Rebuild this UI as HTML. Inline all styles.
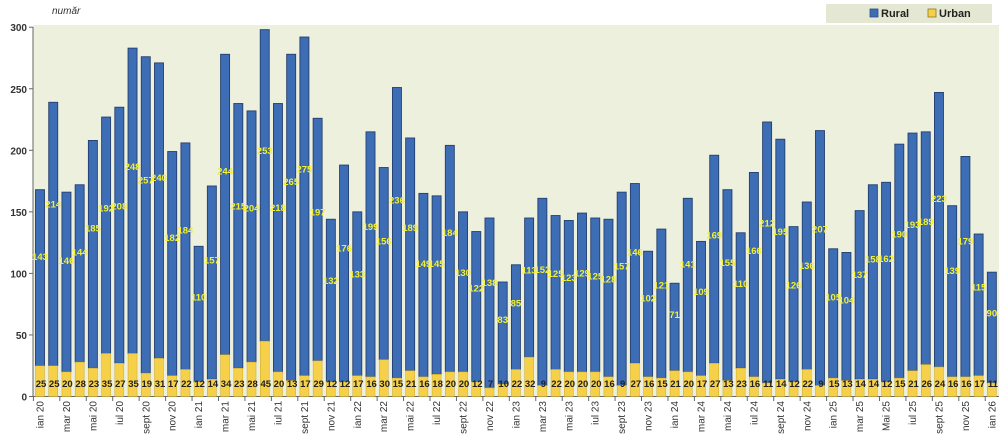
<!DOCTYPE html>
<html><head><meta charset="utf-8"><style>
html,body{margin:0;padding:0;background:#fff;width:1000px;height:441px;overflow:hidden}
svg{display:block;font-family:"Liberation Sans",sans-serif}
</style></head><body>
<svg id="c" width="1000" height="441" xmlns="http://www.w3.org/2000/svg">
<rect x="33" y="25" width="966" height="371" fill="#edf0dc"/>
<rect x="826" y="4" width="166" height="19" fill="#e4e8d2"/>
<rect x="870" y="9" width="8" height="8" fill="#3d6db4" stroke="#2a4f88" stroke-width="0.8"/>
<text x="881" y="17" font-size="11" font-weight="bold" fill="#222">Rural</text>
<rect x="928" y="9" width="8" height="8" fill="#f7d04a" stroke="#8a7a20" stroke-width="0.8"/>
<text x="939" y="17" font-size="11" font-weight="bold" fill="#222">Urban</text>
<text x="52" y="14" font-size="10" font-style="italic" fill="#333">număr</text>
<line x1="33" y1="27" x2="33" y2="397" stroke="#666"/>
<line x1="33" y1="396.5" x2="999" y2="396.5" stroke="#666"/>
</svg>
<script>
var tot=[168,239,166,172,208,227,235,283,276,271,199,206,122,171,278,238,232,298,238,278,292,226,144,188,150,215,186,251,210,165,163,204,150,134,145,93,107,145,161,147,143,149,145,144,166,173,118,136,92,161,126,196,168,133,182,223,209,138,158,216,120,117,151,172,174,205,214,215,247,155,195,132,101];
var urb=[25,25,20,28,23,35,27,35,19,31,17,22,12,14,34,23,28,45,20,13,17,29,12,12,17,16,30,15,21,16,18,20,20,12,7,10,22,32,9,22,20,20,20,16,9,27,16,15,21,20,17,27,13,23,16,11,14,12,22,9,15,13,14,14,12,15,21,26,24,16,16,17,11];
var mn=["ian","mar","mai","iul","sept","nov"];
var s=document.getElementById("c"),h="";
var y0=396.5,k=1.231,w=9;
for(var v=0;v<=300;v+=50){var y=y0-v*k;h+='<line x1="29" y1="'+y+'" x2="33" y2="'+y+'" stroke="#666"/><text x="27" y="'+(y+4)+'" font-size="10" text-anchor="end" fill="#333" font-weight="bold">'+v+'</text>';}
for(var i=0;i<73;i++){
 var cx=40+i*13.22,x=cx-w/2,t=tot[i],u=urb[i],r=t-u;
 var yt=y0-t*k,yu=y0-u*k;
 h+='<rect x="'+x+'" y="'+yt+'" width="'+w+'" height="'+(yu-yt)+'" fill="#3d6db4" stroke="#243f70" stroke-width="0.9"/>';
 h+='<rect x="'+x+'" y="'+yu+'" width="'+w+'" height="'+(y0-yu)+'" fill="#f7d04a" stroke="#c8a830" stroke-width="0.5"/>';
 h+='<text x="'+cx+'" y="'+(y0-(u+r*0.6)*k)+'" font-size="9.5" font-weight="bold" fill="#f5f032" text-anchor="middle">'+r+'</text>';
 h+='<text x="'+(cx+1)+'" y="387" font-size="9.5" font-weight="bold" fill="#222" text-anchor="middle">'+u+'</text>';
 if(i%2==0){var yr=20+Math.floor(i/12),lab=mn[(i%12)/2]+' '+yr;if(i==64)lab='Mai 25';
  h+='<line x1="'+(cx-6.6)+'" y1="397" x2="'+(cx-6.6)+'" y2="401" stroke="#666"/>';
  h+='<text transform="translate('+(cx+3.5)+',401) rotate(-90)" font-size="10" fill="#333" text-anchor="end">'+lab+'</text>';}
}
s.insertAdjacentHTML("beforeend",h);
</script>
</body></html>
